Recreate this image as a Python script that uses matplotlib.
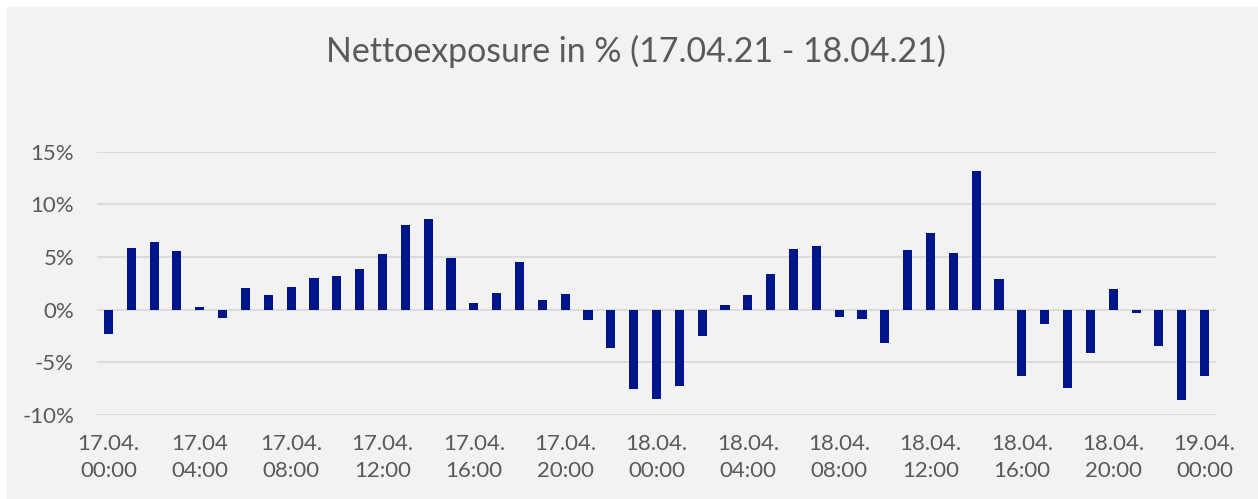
import matplotlib
matplotlib.use("Agg")
import matplotlib.pyplot as plt
from matplotlib.ticker import FuncFormatter
import numpy as np

title = "Nettoexposure in % (17.04.21 - 18.04.21)"

# hourly net exposure in %, 17.04. 00:00 .. 19.04. 00:00
values = [-2.3, 5.9, 6.4, 5.6, 0.25, -0.8, 2.1, 1.4, 2.2, 3.0, 3.2, 3.9, 5.25,
          8.05, 8.6, 4.95, 0.6, 1.6, 4.5, 0.9, 1.5, -1.0, -3.6, -7.5, -8.45,
          -7.25, -2.5, 0.4, 1.35, 3.4, 5.8, 6.0, -0.65, -0.9, -3.15, 5.7, 7.3,
          5.35, 13.2, 2.9, -6.25, -1.35, -7.45, -4.15, 2.0, -0.3, -3.45, -8.55,
          -6.25]

tick_positions = [0, 4, 8, 12, 16, 20, 24, 28, 32, 36, 40, 44, 48]
tick_labels = ["17.04.\n00:00", "17.04\n04:00", "17.04.\n08:00", "17.04.\n12:00",
               "17.04.\n16:00", "17.04.\n20:00", "18.04.\n00:00", "18.04.\n04:00",
               "18.04.\n08:00", "18.04.\n12:00", "18.04.\n16:00", "18.04.\n20:00",
               "19.04.\n00:00"]
y_ticks = [-10, -5, 0, 5, 10, 15]

BG = "#F2F2F2"
TXT = "#595959"
BAR = "#00158A"
GRID = "#D9D9D9"
FONT = "Lato"

W, H = 1258, 499
fig = plt.figure(figsize=(W / 100, H / 100), dpi=100)
fig.patch.set_facecolor("white")
# grey chart area with thin white margin on top/left
bgax = fig.add_axes([7 / W, 0, 1 - 7 / W, 1 - 7 / H])
bgax.set_facecolor(BG)
bgax.set_xticks([])
bgax.set_yticks([])
for s in bgax.spines.values():
    s.set_visible(False)

left, right = 97 / W, 1216 / W
top, bottom = 1 - 151.7 / H, 1 - 415 / H
ax = fig.add_axes([left, bottom, right - left, top - bottom])
ax.set_facecolor("none")

x = np.arange(len(values))
ax.bar(x, values, width=0.4, color=BAR, zorder=3)

ax.set_xlim(-0.5, len(values) - 0.5)
ax.set_ylim(-10, 15)
ax.set_yticks(y_ticks)
ax.yaxis.set_major_formatter(FuncFormatter(lambda v, p: f"{v:.0f}%"))
ax.grid(axis="y", color=GRID, linewidth=1.3, zorder=0)
ax.set_xticks(tick_positions)
ax.set_xticklabels(tick_labels, linespacing=1.4)
for s in ax.spines.values():
    s.set_visible(False)
ax.tick_params(axis="both", length=0, colors=TXT, labelsize=16)
ax.tick_params(axis="y", pad=16.5)
ax.tick_params(axis="x", pad=14)
for lab in ax.get_xticklabels() + ax.get_yticklabels():
    lab.set_fontfamily(FONT)
    lab.set_color(TXT)

fig.text(636 / W, 1 - 51 / H, title, ha="center", va="center",
         fontsize=24.4, color=TXT, family=FONT)

fig.savefig("out.png", dpi=100, facecolor=fig.get_facecolor())
